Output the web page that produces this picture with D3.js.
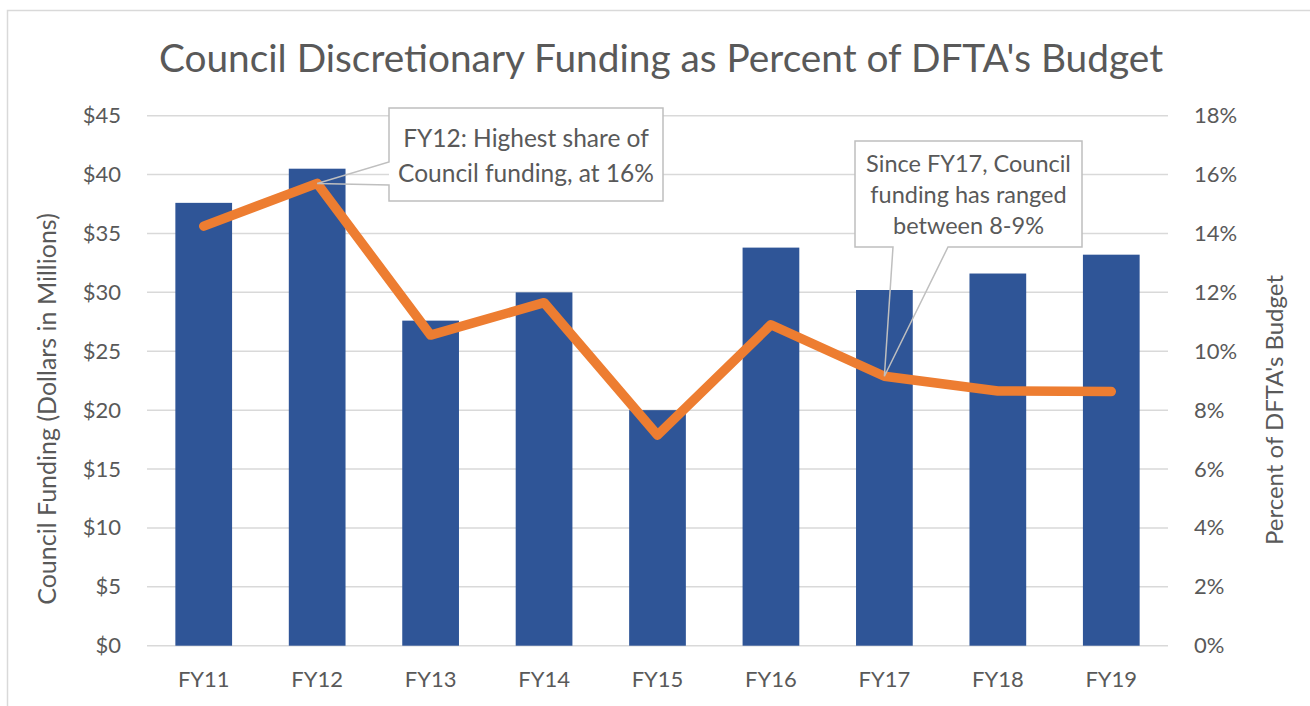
<!DOCTYPE html>
<html>
<head>
<meta charset="utf-8">
<script src="https://cdn.jsdelivr.net/npm/d3@7"></script>
<style>
  body { margin: 0; background: #fff; }
  text { font-family: Lato, "Open Sans", sans-serif; fill: #595959; }
</style>
</head>
<body>
<script>
// data
const years = ["FY11", "FY12", "FY13", "FY14", "FY15", "FY16", "FY17", "FY18", "FY19"];
const funding = [37.6, 40.5, 27.6, 30.0, 20.0, 33.8, 30.2, 31.6, 33.2];
const pctBudget = [14.25, 15.7, 10.55, 11.65, 7.15, 10.9, 9.15, 8.65, 8.63];
const fundTicks = [0, 5, 10, 15, 20, 25, 30, 35, 40, 45];
const pctTicks = [0, 2, 4, 6, 8, 10, 12, 14, 16, 18];

const title = "Council Discretionary Funding as Percent of DFTA's Budget";
const yTitleLeft = "Council Funding (Dollars in Millions)";
const yTitleRight = "Percent of DFTA's Budget";
const note1 = ["FY12: Highest share of", "Council funding, at 16%"];
const note2 = ["Since FY17, Council", "funding has ranged", "between 8-9%"];

let w = 1310;
let h = 706;
let plotL = 147, plotR = 1168, plotT = 115.7, plotB = 645.7;

const barFill = "#2F5597";
const lineColor = "#ED7D31";
const gridColor = "#D9D9D9";
const calloutStroke = "#BFBFBF";

let svg = d3.select("body").append("svg").attr("width", w).attr("height", h);

// chart area border
svg.append("rect")
  .attr("x", 7.5).attr("y", 10.5)
  .attr("width", w + 20).attr("height", h + 20)
  .attr("fill", "none")
  .attr("stroke", gridColor)
  .attr("stroke-width", 1.5);

let x = d3.scaleBand().domain(years).range([plotL, plotR]).paddingInner(0.5).paddingOuter(0.25);
let xc = d => x(d) + x.bandwidth() / 2;
let yL = d3.scaleLinear().domain([0, 45]).range([plotB, plotT]);
let yR = d3.scaleLinear().domain([0, 18]).range([plotB, plotT]);

// gridlines
svg.append("g")
  .selectAll("line")
  .data(fundTicks)
  .enter()
  .append("line")
  .attr("x1", plotL).attr("x2", plotR)
  .attr("y1", d => yL(d)).attr("y2", d => yL(d))
  .attr("stroke", gridColor)
  .attr("stroke-width", 1.5);

// left axis labels
const leftAxis = d3.axisLeft(yL).tickValues(fundTicks).tickFormat(d => "$" + d).tickSize(0).tickPadding(26);
svg.append("g")
  .attr("transform", "translate(" + plotL + ",0)")
  .call(leftAxis)
  .call(g => g.select(".domain").remove())
  .selectAll("text")
  .style("font-size", "22px")
  .attr("fill", "#595959");

// right axis labels
const rightAxis = d3.axisRight(yR).tickValues(pctTicks).tickFormat(d => d + "%").tickSize(0).tickPadding(26);
svg.append("g")
  .attr("transform", "translate(" + plotR + ",0)")
  .call(rightAxis)
  .call(g => g.select(".domain").remove())
  .selectAll("text")
  .style("font-size", "22px")
  .attr("fill", "#595959");

// bars
svg.append("g")
  .selectAll("rect")
  .data(years)
  .enter()
  .append("rect")
  .attr("x", d => x(d))
  .attr("width", x.bandwidth())
  .attr("y", (d, i) => yL(funding[i]))
  .attr("height", (d, i) => yL(0) - yL(funding[i]))
  .attr("fill", barFill);

// category labels
const bottomAxis = d3.axisBottom(x).tickSize(0).tickPadding(26);
svg.append("g")
  .attr("transform", "translate(0," + plotB + ")")
  .call(bottomAxis)
  .call(g => g.select(".domain").remove())
  .selectAll("text")
  .style("font-size", "22px")
  .attr("fill", "#595959");

// percent line
const line = d3.line()
  .x((d, i) => xc(years[i]))
  .y(d => yR(d));

svg.append("path")
  .datum(pctBudget)
  .attr("d", line)
  .attr("fill", "none")
  .attr("stroke", lineColor)
  .attr("stroke-width", 9.5)
  .attr("stroke-linecap", "round")
  .attr("stroke-linejoin", "round");

// title
svg.append("text")
  .attr("x", 661)
  .attr("y", 72)
  .attr("text-anchor", "middle")
  .style("font-size", "38.8px")
  .text(title);

// axis titles
svg.append("text")
  .attr("transform", "translate(56,409) rotate(-90)")
  .attr("text-anchor", "middle")
  .style("font-size", "25px")
  .text(yTitleLeft);

svg.append("text")
  .attr("transform", "translate(1283,410) rotate(-90)")
  .attr("text-anchor", "middle")
  .style("font-size", "24px")
  .text(yTitleRight);

// callout: white box, outline with a pointer on the left or bottom edge
function drawCallout(box, wedge, tip, lines, lineGap, firstBase, size) {
  let g = svg.append("g");
  g.append("rect")
    .attr("x", box.x0).attr("y", box.y0)
    .attr("width", box.x1 - box.x0).attr("height", box.y1 - box.y0)
    .attr("fill", "#fff");
  let p = d3.path();
  if (wedge.side === "left") {
    p.moveTo(box.x0, box.y0);
    p.lineTo(box.x1, box.y0);
    p.lineTo(box.x1, box.y1);
    p.lineTo(box.x0, box.y1);
    p.lineTo(box.x0, wedge.b);
    p.lineTo(tip[0], tip[1]);
    p.lineTo(box.x0, wedge.a);
    p.closePath();
  } else {
    p.moveTo(box.x0, box.y0);
    p.lineTo(box.x1, box.y0);
    p.lineTo(box.x1, box.y1);
    p.lineTo(wedge.b, box.y1);
    p.lineTo(tip[0], tip[1]);
    p.lineTo(wedge.a, box.y1);
    p.lineTo(box.x0, box.y1);
    p.closePath();
  }
  g.append("path")
    .attr("d", p.toString())
    .attr("fill", "none")
    .attr("stroke", calloutStroke)
    .attr("stroke-width", 1.5);
  g.selectAll("text")
    .data(lines)
    .enter()
    .append("text")
    .attr("x", (box.x0 + box.x1) / 2)
    .attr("y", (d, i) => firstBase + i * lineGap)
    .attr("text-anchor", "middle")
    .style("font-size", size + "px")
    .text(d => d);
}

drawCallout({ x0: 389, y0: 108, x1: 663, y1: 201 }, { side: "left", a: 162, b: 185 },
  [xc("FY12"), yR(pctBudget[1])], note1, 35, 147, 24.5);

drawCallout({ x0: 855, y0: 141, x1: 1082, y1: 247 }, { side: "bottom", a: 893, b: 948 },
  [xc("FY17"), yR(pctBudget[6])], note2, 31, 172, 23.5);
</script>
</body>
</html>
